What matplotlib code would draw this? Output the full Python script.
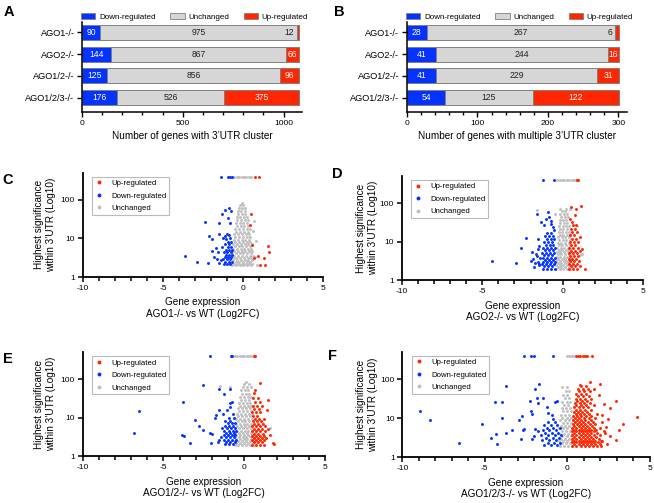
import matplotlib
matplotlib.use('Agg')
import matplotlib.pyplot as plt
from matplotlib.lines import Line2D
from matplotlib.patches import Patch
from matplotlib.ticker import NullLocator
import numpy as np

plt.rcParams['font.family'] = ['Liberation Sans', 'DejaVu Sans']

BLUE = '#0433ff'
RED = '#ff2600'
GREY_BAR = '#d6d6d6'
GREY_PT = '#c0c0c0'

# ---------------- bar data (panels A, B) ----------------
genotypes = ['AGO1-/-', 'AGO2-/-', 'AGO1/2-/-', 'AGO1/2/3-/-']
a_down = [90, 144, 125, 176]
a_unch = [975, 867, 856, 526]
a_up = [12, 66, 96, 375]
b_down = [28, 41, 41, 54]
b_unch = [267, 244, 229, 125]
b_up = [6, 16, 31, 122]

# ---------------- volcano data (panels C-F) ----------------
# rows: (y, [x, x, ...]) ; pts: (x, y) ; 400 = capped at top
c_unch_rows = [
    (2.0, [-0.68, -0.45, -0.22, 0.02, 0.25, 0.48]),
    (2.2, [-0.58, -0.33, -0.1, 0.14, 0.36, 0.58]),
    (2.5, [-0.7, -0.47, -0.24, 0.0, 0.22, 0.45]),
    (2.8, [-0.6, -0.36, -0.12, 0.1, 0.33, 0.55]),
    (3.2, [-0.66, -0.42, -0.2, 0.05, 0.28, 0.5]),
    (3.6, [-0.55, -0.3, -0.06, 0.18, 0.4, 0.62]),
    (4.1, [-0.7, -0.46, -0.22, 0.02, 0.26, 0.47]),
    (4.7, [-0.58, -0.34, -0.1, 0.14, 0.37, 0.56]),
    (5.4, [-0.64, -0.4, -0.16, 0.08, 0.3, 0.52]),
    (6.2, [-0.52, -0.28, -0.04, 0.2, 0.42]),
    (7.1, [-0.62, -0.38, -0.14, 0.1, 0.33, 0.55]),
    (8.2, [-0.5, -0.26, -0.02, 0.22, 0.44]),
    (9.4, [-0.58, -0.34, -0.1, 0.14, 0.36]),
    (11, [-0.48, -0.24, 0.0, 0.24, 0.45]),
    (13, [-0.55, -0.3, -0.06, 0.18, 0.38]),
    (15, [-0.44, -0.2, 0.04, 0.28]),
    (18, [-0.5, -0.26, -0.02, 0.22, 0.4]),
    (21, [-0.4, -0.16, 0.08, 0.3]),
    (25, [-0.46, -0.22, 0.02, 0.24]),
    (30, [-0.36, -0.12, 0.12, 0.3]),
    (36, [-0.4, -0.18, 0.06, 0.22]),
    (43, [-0.3, -0.08, 0.14]),
    (52, [-0.34, -0.12, 0.1]),
    (62, [-0.24, -0.04, 0.12]),
    (75, [-0.18, 0.02]),
    (85, [-0.08]),
]
c_unch_pts = [(0.72, 3.4), (0.8, 8.5), (0.62, 16), (-0.78, 2.3), (0.85, 2.1), (0.66, 28),
              (-0.56, 400), (-0.4, 400), (-0.25, 400), (-0.1, 400), (0.05, 400), (0.2, 400),
              (0.35, 400), (0.5, 400)]
c_down_rows = [
    (2.2, [-1.2, -1.0, -0.8]),
    (2.5, [-1.1, -0.9, -0.72]),
    (2.9, [-1.25, -1.02, -0.82]),
    (3.3, [-1.15, -0.95, -0.75]),
    (3.8, [-1.05, -0.85, -0.7]),
    (4.4, [-1.2, -0.98, -0.78]),
    (5.1, [-1.08, -0.88, -0.72]),
    (6.0, [-0.95, -0.78]),
    (7.0, [-1.1, -0.85]),
    (8.0, [-0.92, -0.75]),
]
c_down_pts = [(-3.65, 3.6), (-2.86, 2.5), (-2.17, 2.27), (-2.37, 26), (-2.13, 11.6), (-1.92, 9.5),
              (-1.96, 4.7), (-1.71, 5.5), (-1.81, 3.25), (-1.5, 24.7), (-1.33, 43), (-1.12, 55),
              (-0.87, 61), (-0.77, 52), (-0.92, 33), (-0.83, 25.7), (-1.5, 13), (-1.25, 10.5),
              (-1.0, 13), (-0.9, 12), (-1.15, 11.5), (-0.8, 10), (-1.05, 9.8), (-1.6, 3.0),
              (-1.5, 2.3), (-1.55, 4.5), (-1.3, 6), (-1.4, 2.8),
              (-1.36, 400), (-0.94, 400), (-0.83, 400), (-0.71, 400)]
c_up_rows = []
c_up_pts = [(0.75, 400), (1.02, 400), (0.5, 42), (0.42, 23), (0.54, 6.8), (1.58, 6.4),
            (1.63, 4.4), (0.94, 3.6), (1.33, 3.2), (0.65, 3.05), (1.04, 2.0), (1.38, 2.0)]

d_unch_rows = [
    (2.0, [-0.4, -0.18, 0.04, 0.26, 0.48]),
    (2.2, [-0.3, -0.08, 0.14, 0.36, 0.58]),
    (2.5, [-0.42, -0.2, 0.02, 0.24, 0.46]),
    (2.8, [-0.32, -0.1, 0.12, 0.34, 0.55]),
    (3.2, [-0.4, -0.18, 0.05, 0.27, 0.5]),
    (3.6, [-0.28, -0.06, 0.16, 0.38, 0.6]),
    (4.1, [-0.38, -0.16, 0.06, 0.28, 0.5]),
    (4.7, [-0.3, -0.08, 0.14, 0.36, 0.56]),
    (5.4, [-0.36, -0.14, 0.08, 0.3, 0.52]),
    (6.2, [-0.26, -0.04, 0.18, 0.4]),
    (7.1, [-0.34, -0.12, 0.1, 0.32, 0.52]),
    (8.2, [-0.24, -0.02, 0.2, 0.42]),
    (9.4, [-0.3, -0.08, 0.14, 0.36]),
    (11, [-0.22, 0.0, 0.22, 0.44]),
    (13, [-0.28, -0.06, 0.16, 0.38]),
    (15, [-0.2, 0.02, 0.24, 0.42]),
    (18, [-0.26, -0.04, 0.18, 0.36]),
    (21, [-0.18, 0.04, 0.26]),
    (25, [-0.22, 0.0, 0.2, 0.38]),
    (30, [-0.14, 0.08, 0.28]),
    (36, [-0.2, 0.02, 0.22]),
    (43, [-0.1, 0.12, 0.3]),
    (52, [-0.16, 0.06, 0.24]),
    (62, [-0.06, 0.14]),
    (72, [-0.2, 0.2]),
]
d_unch_pts = [(-1.6, 65), (1.05, 4.5), (1.2, 4.8), (0.9, 25), (-0.45, 52), (0.45, 70),
              (-0.35, 400), (-0.2, 400), (-0.05, 400), (0.1, 400), (0.25, 400), (0.4, 400),
              (0.55, 400), (0.7, 400), (0.83, 400)]
d_down_rows = [
    (2.0, [-1.25, -1.0, -0.75, -0.5]),
    (2.3, [-1.15, -0.9, -0.65]),
    (2.6, [-1.3, -1.05, -0.8, -0.55]),
    (3.0, [-1.2, -0.95, -0.7, -0.48]),
    (3.4, [-1.1, -0.85, -0.6]),
    (3.9, [-1.25, -1.0, -0.75, -0.5]),
    (4.5, [-1.15, -0.9, -0.65]),
    (5.2, [-1.3, -1.05, -0.8, -0.55]),
    (6.0, [-1.1, -0.85, -0.6]),
    (7.0, [-1.2, -0.95, -0.7, -0.5]),
    (8.2, [-1.05, -0.8, -0.58]),
    (9.6, [-1.15, -0.9, -0.65]),
    (11.5, [-1.0, -0.75, -0.52]),
    (14, [-1.1, -0.85, -0.6]),
    (17, [-0.95, -0.7]),
]
d_down_pts = [(-4.39, 3.16), (-2.9, 2.8), (-2.59, 6.9), (-2.28, 12.5), (-1.6, 53), (-1.35, 32),
              (-1.86, 3.5), (-1.76, 2.2), (-1.45, 2.5), (-1.66, 4.9), (-1.55, 6.6), (-1.51, 11.9),
              (-1.55, 3.0), (-1.18, 26.5), (-1.04, 39.6), (-0.93, 61), (-0.83, 43.6), (-0.73, 29.3),
              (-0.62, 24), (-1.5, 2.6), (-1.4, 3.8), (-1.7, 2.8), (-1.45, 8.0), (-1.6, 4.2),
              (-2.0, 3.2), (-1.9, 5.5), (-0.55, 20), (-0.7, 35),
              (-1.24, 400), (-0.56, 400)]
d_up_rows = [
    (2.0, [0.4, 0.65, 0.9]),
    (2.3, [0.52, 0.78, 1.05]),
    (2.7, [0.38, 0.62, 0.88]),
    (3.1, [0.48, 0.72, 1.0]),
    (3.6, [0.36, 0.6, 0.85]),
    (4.2, [0.46, 0.7, 0.95]),
    (5.0, [0.38, 0.62, 0.88]),
    (5.9, [0.5, 0.75, 1.05]),
    (7.0, [0.4, 0.65, 0.92]),
    (8.3, [0.52, 0.78]),
    (10, [0.42, 0.68, 0.95]),
    (12, [0.55, 0.8]),
    (15, [0.45, 0.7]),
    (18, [0.6, 0.88]),
    (22, [0.5, 0.75]),
    (27, [0.62, 0.85]),
    (32, [0.55]),
]
d_up_pts = [(1.14, 84), (0.83, 71), (0.52, 82), (0.78, 50), (1.39, 2.0), (1.2, 6.5), (1.1, 13),
            (0.45, 40), (0.93, 400), (0.88, 400)]

e_unch_rows = [
    (2.0, [-0.6, -0.36, -0.12, 0.12, 0.36, 0.6]),
    (2.2, [-0.5, -0.26, -0.02, 0.22, 0.46, 0.7]),
    (2.5, [-0.62, -0.38, -0.14, 0.1, 0.34, 0.58]),
    (2.8, [-0.52, -0.28, -0.04, 0.2, 0.44]),
    (3.2, [-0.58, -0.34, -0.1, 0.14, 0.38, 0.62]),
    (3.6, [-0.48, -0.24, 0.0, 0.24, 0.48]),
    (4.1, [-0.56, -0.32, -0.08, 0.16, 0.4, 0.64]),
    (4.7, [-0.46, -0.22, 0.02, 0.26, 0.5]),
    (5.4, [-0.54, -0.3, -0.06, 0.18, 0.42]),
    (6.2, [-0.44, -0.2, 0.04, 0.28, 0.5]),
    (7.1, [-0.52, -0.28, -0.04, 0.2, 0.44]),
    (8.2, [-0.4, -0.16, 0.08, 0.32]),
    (9.4, [-0.48, -0.24, 0.0, 0.24, 0.46]),
    (11, [-0.36, -0.12, 0.12, 0.36]),
    (13, [-0.42, -0.18, 0.06, 0.3, 0.5]),
    (15, [-0.3, -0.06, 0.18, 0.4]),
    (18, [-0.38, -0.14, 0.1, 0.34]),
    (21, [-0.26, -0.02, 0.22, 0.44]),
    (25, [-0.32, -0.08, 0.16, 0.38]),
    (30, [-0.2, 0.04, 0.28]),
    (36, [-0.26, -0.02, 0.22, 0.42]),
    (43, [-0.14, 0.1, 0.32]),
    (52, [-0.2, 0.04, 0.26]),
    (62, [-0.06, 0.18, 0.4]),
    (75, [0.0, 0.3]),
    (85, [0.12]),
]
e_unch_pts = [(1.57, 5.3), (-1.48, 67), (-0.9, 62), (1.1, 8.0), (1.35, 3.0),
              (-0.56, 400), (-0.42, 400), (-0.28, 400), (-0.14, 400), (0.0, 400), (0.15, 400),
              (0.3, 400), (0.45, 400)]
e_down_rows = [
    (2.1, [-1.2, -0.95, -0.7]),
    (2.4, [-1.1, -0.85, -0.6]),
    (2.7, [-1.25, -1.0, -0.75, -0.52]),
    (3.1, [-1.15, -0.9, -0.65]),
    (3.5, [-1.28, -1.03, -0.78, -0.55]),
    (4.0, [-1.12, -0.88, -0.62]),
    (4.6, [-1.22, -0.97, -0.72, -0.5]),
    (5.3, [-1.08, -0.83, -0.6]),
    (6.2, [-1.18, -0.92, -0.68]),
    (7.3, [-1.0, -0.75, -0.55]),
    (8.5, [-1.2, -0.85]),
    (10, [-0.95, -0.65]),
    (12.5, [-1.3, -0.7]),
]
e_down_pts = [(-6.85, 4.0), (-6.49, 15), (-3.79, 26), (-3.86, 3.56), (-3.71, 3.4), (-3.34, 2.17),
              (-3.07, 9.0), (-2.82, 6.2), (-2.56, 4.8), (-2.52, 74), (-2.06, 2.17), (-2.1, 4.0),
              (-1.98, 3.8), (-1.8, 10), (-1.75, 12), (-1.55, 57), (-1.53, 16), (-1.24, 42),
              (-0.87, 57), (-0.9, 25), (-0.76, 26), (-0.87, 19), (-1.08, 16), (-1.4, 5.5),
              (-1.65, 2.3), (-1.55, 2.6), (-1.45, 3.2),
              (-2.1, 400), (-0.83, 400), (-0.73, 400)]
e_up_rows = [
    (2.0, [0.5, 0.75, 1.0, 1.25]),
    (2.3, [0.62, 0.88, 1.12]),
    (2.6, [0.48, 0.72, 0.98, 1.22]),
    (3.0, [0.6, 0.85, 1.1, 1.35]),
    (3.4, [0.5, 0.75, 1.0, 1.25]),
    (3.9, [0.62, 0.88, 1.15]),
    (4.5, [0.5, 0.75, 1.0, 1.28]),
    (5.2, [0.6, 0.86, 1.12]),
    (6.0, [0.5, 0.74, 1.0, 1.3]),
    (7.0, [0.62, 0.88, 1.15]),
    (8.2, [0.52, 0.78, 1.05]),
    (9.6, [0.65, 0.92, 1.2]),
    (11.5, [0.55, 0.8]),
    (14, [0.5, 0.72, 1.0]),
    (17, [0.6, 0.9]),
    (21, [0.52, 0.78, 1.1]),
    (26, [0.65, 0.95]),
    (33, [0.55, 0.85]),
]
e_up_pts = [(0.99, 80), (0.68, 52), (1.46, 28.6), (1.4, 16.4), (1.86, 2.1), (1.77, 2.25),
            (1.5, 5.0), (1.6, 3.6), (0.62, 45), (0.64, 400), (0.58, 400)]

f_unch_rows = [
    (2.0, [-0.45, -0.2, 0.05, 0.3]),
    (2.3, [-0.35, -0.1, 0.15]),
    (2.6, [-0.5, -0.25, 0.0, 0.25]),
    (3.0, [-0.4, -0.15, 0.1, 0.32]),
    (3.5, [-0.3, -0.05, 0.2]),
    (4.0, [-0.45, -0.2, 0.05, 0.3]),
    (4.7, [-0.35, -0.1, 0.15]),
    (5.5, [-0.5, -0.25, 0.0, 0.25]),
    (6.4, [-0.38, -0.12, 0.12]),
    (7.5, [-0.28, -0.02, 0.22]),
    (8.8, [-0.42, -0.16, 0.08]),
    (10.5, [-0.3, -0.05, 0.2]),
    (12.5, [-0.4, -0.15, 0.1]),
    (15, [-0.25, 0.0, 0.22]),
    (18, [-0.35, -0.1, 0.14]),
    (22, [-0.2, 0.05]),
    (27, [-0.3, -0.05, 0.18]),
    (33, [-0.15, 0.1]),
    (40, [-0.25, 0.0]),
    (50, [-0.1, 0.12]),
    (62, [-0.34, 0.0]),
]
f_unch_pts = [(-0.04, 400), (0.1, 400), (0.22, 400), (0.36, 400)]
f_down_rows = [
    (2.1, [-1.4, -1.0, -0.6]),
    (2.4, [-1.2, -0.8, -0.45]),
    (2.8, [-1.55, -1.1, -0.7]),
    (3.2, [-1.3, -0.9, -0.5]),
    (3.7, [-1.6, -1.15, -0.75, -0.4]),
    (4.3, [-1.35, -0.95, -0.55]),
    (5.0, [-1.5, -1.1, -0.7]),
    (5.8, [-1.25, -0.85, -0.45]),
    (6.8, [-1.4, -1.0, -0.6]),
    (8.0, [-1.15, -0.75]),
]
f_down_pts = [(-8.93, 15.2), (-8.3, 9.2), (-6.55, 2.3), (-5.15, 7.0), (-4.65, 3.1), (-4.3, 4.05),
              (-4.24, 2.2), (-4.38, 26.7), (-3.94, 26.2), (-3.72, 66), (-3.98, 10.3), (-3.72, 4.2),
              (-3.37, 4.9), (-2.93, 9.2), (-2.77, 11.8), (-2.7, 5.0), (-2.6, 5.4), (-2.8, 3.0),
              (-2.26, 28), (-2.2, 15), (-2.16, 13), (-1.96, 56), (-1.7, 78), (-1.85, 34),
              (-1.75, 25), (-1.95, 5.3), (-1.8, 4.8), (-2.05, 3.5), (-2.15, 3.0), (-1.45, 33),
              (-1.25, 20), (-1.15, 14), (-0.95, 12), (-0.75, 25.7), (-0.65, 28), (-0.85, 9.5),
              (-2.61, 400), (-2.22, 400), (-2.02, 400), (-0.85, 400)]
f_up_rows = [
    (2.0, [0.3, 0.55, 0.8, 1.05, 1.3, 1.55, 1.8, 2.05]),
    (2.2, [0.42, 0.68, 0.92, 1.18, 1.42, 1.68, 1.95]),
    (2.45, [0.3, 0.55, 0.8, 1.05, 1.3, 1.55, 1.85]),
    (2.7, [0.42, 0.68, 0.92, 1.18, 1.42, 1.7, 2.1]),
    (3.0, [0.3, 0.55, 0.8, 1.05, 1.3, 1.58, 1.9]),
    (3.3, [0.42, 0.68, 0.92, 1.18, 1.45, 1.75]),
    (3.7, [0.3, 0.55, 0.8, 1.05, 1.3, 1.6, 2.0]),
    (4.1, [0.42, 0.68, 0.92, 1.18, 1.45, 1.8]),
    (4.6, [0.3, 0.55, 0.8, 1.05, 1.3, 1.6, 2.2]),
    (5.1, [0.42, 0.68, 0.92, 1.18, 1.45, 1.75]),
    (5.7, [0.3, 0.55, 0.8, 1.05, 1.3, 1.62, 1.95]),
    (6.4, [0.42, 0.68, 0.92, 1.2, 1.5]),
    (7.2, [0.32, 0.56, 0.8, 1.05, 1.35, 1.7]),
    (8.1, [0.45, 0.7, 0.95, 1.22, 1.55, 2.1]),
    (9.1, [0.34, 0.58, 0.82, 1.08, 1.4]),
    (10.3, [0.46, 0.72, 0.98, 1.28, 1.65]),
    (11.6, [0.36, 0.6, 0.85, 1.12, 1.45]),
    (13, [0.5, 0.75, 1.0, 1.3, 1.8]),
    (14.8, [0.4, 0.65, 0.9, 1.18]),
    (16.8, [0.52, 0.78, 1.05, 1.4]),
    (19, [0.42, 0.68, 0.95, 1.25]),
    (21.5, [0.55, 0.82, 1.1, 1.6]),
    (24.5, [0.48, 0.75, 1.02, 1.35]),
    (28, [0.6, 0.88, 1.2]),
    (32, [0.5, 0.78, 1.05, 1.45]),
    (37, [0.65, 0.95, 1.3]),
    (43, [0.55, 0.85, 1.15]),
    (50, [0.7, 1.0, 1.35]),
    (58, [0.62, 0.95, 1.25]),
    (68, [0.8, 1.15]),
]
f_up_pts = [(4.2, 10.7), (3.35, 7.2), (3.1, 5.1), (2.93, 2.85), (2.93, 28), (2.59, 18.4),
            (2.2, 23), (2.0, 78), (1.39, 86), (0.77, 72), (2.28, 4.1), (2.38, 2.2), (2.6, 3.5),
            (2.45, 9.5), (2.1, 12), (2.35, 6.0), (1.9, 40), (1.6, 55), (2.05, 2.6),
            (0.5, 400), (0.65, 400), (0.79, 400), (0.95, 400), (1.07, 400), (1.21, 400), (1.47, 400)]


def to_xy(rows, pts):
    xs, ys = [], []
    for y, xlist in rows:
        for x in xlist:
            xs.append(x)
            ys.append(y)
    for x, y in pts:
        xs.append(x)
        ys.append(y)
    return xs, ys


def draw_bars(ax, down, unch, up, xmax, major, minor, xlabel):
    y = np.arange(len(genotypes))
    kw = dict(height=0.69, edgecolor='#808080', linewidth=0.7)
    down = np.array(down)
    unch = np.array(unch)
    up = np.array(up)
    ax.barh(y, down, color=BLUE, **kw)
    ax.barh(y, unch, left=down, color=GREY_BAR, **kw)
    ax.barh(y, up, left=down + unch, color=RED, **kw)
    for i in y:
        ax.text(down[i] / 2, i, str(down[i]), color='white', ha='center', va='center', fontsize=6.2)
        ax.text(down[i] + unch[i] / 2, i, str(unch[i]), color='#222222', ha='center', va='center', fontsize=6.2)
        lu = down[i] + unch[i]
        if up[i] > 0.03 * xmax:
            ax.text(lu + up[i] / 2, i, str(up[i]), color='white', ha='center', va='center', fontsize=6.2)
        else:
            ax.text(lu - 0.012 * xmax, i, str(up[i]), color='#222222', ha='right', va='center', fontsize=6.2)
    ax.set_ylim(3.656, -0.47)
    ax.set_xlim(0, xmax)
    ax.set_yticks(y)
    ax.set_yticklabels(genotypes, fontsize=6.6)
    ax.set_xticks(major)
    ax.set_xticks(minor, minor=True)
    ax.tick_params(axis='x', labelsize=6, length=3.5, width=1, pad=2)
    ax.tick_params(axis='x', which='minor', length=2.5, width=1)
    ax.tick_params(axis='y', length=3.5, width=1, pad=2)
    ax.set_xlabel(xlabel, fontsize=7.2, labelpad=3)
    for s in ['top', 'right']:
        ax.spines[s].set_visible(False)
    for s in ['left', 'bottom']:
        ax.spines[s].set_linewidth(1.1)
    handles = [Patch(facecolor=BLUE, edgecolor='#808080', linewidth=0.6, label='Down-regulated'),
               Patch(facecolor=GREY_BAR, edgecolor='#808080', linewidth=0.6, label='Unchanged'),
               Patch(facecolor=RED, edgecolor='#808080', linewidth=0.6, label='Up-regulated')]
    ax.legend(handles=handles, loc='lower left', bbox_to_anchor=(-0.005, 1.01), ncol=3,
              frameon=False, fontsize=5.8, handlelength=1.8, handleheight=0.7,
              handletextpad=0.45, columnspacing=1.8, borderaxespad=0, borderpad=0)


def draw_volcano(ax, unch, down, up, geno, ylab_x):
    ax.scatter(*to_xy(*unch), s=4.5, color=GREY_PT, linewidths=0, clip_on=False)
    ax.scatter(*to_xy(*down), s=4.5, color=BLUE, linewidths=0, clip_on=False)
    ax.scatter(*to_xy(*up), s=4.5, color=RED, linewidths=0, clip_on=False)
    ax.set_yscale('log')
    ax.set_ylim(1, 510)
    ax.set_xlim(-10, 5)
    ax.set_yticks([1, 10, 100])
    ax.set_yticklabels(['1', '10', '100'])
    ax.yaxis.set_minor_locator(NullLocator())
    ax.set_xticks([-10, -5, 0, 5])
    ax.set_xticklabels(['-10', '-5', '0', '5'])
    ax.set_xticks(np.arange(-10, 6, 1), minor=True)
    ax.tick_params(labelsize=6, length=3.5, width=1.1, pad=2)
    ax.tick_params(which='minor', length=3, width=1.1)
    for s in ['top', 'right']:
        ax.spines[s].set_visible(False)
    for s in ['left', 'bottom']:
        ax.spines[s].set_linewidth(1.3)
    ax.set_xlabel('Gene expression\n' + geno + ' vs WT (Log2FC)', fontsize=7.2, labelpad=4)
    ax.set_ylabel('Highest significance\nwithin 3\u2019UTR (Log10)', fontsize=7.2)
    ax.yaxis.set_label_coords(ylab_x, 0.5)
    handles = [Line2D([], [], ls='', marker='o', markersize=1.8, color=RED, label='Up-regulated'),
               Line2D([], [], ls='', marker='o', markersize=1.8, color=BLUE, label='Down-regulated'),
               Line2D([], [], ls='', marker='o', markersize=1.8, color=GREY_PT, label='Unchanged')]
    leg = ax.legend(handles=handles, loc='upper left', bbox_to_anchor=(0.04, 0.96), fontsize=5.6,
                    fancybox=False, edgecolor='#aaaaaa', borderpad=0.35, labelspacing=0.65,
                    handlelength=1.0, handletextpad=1.1, borderaxespad=0)
    leg.get_frame().set_linewidth(0.8)


fig = plt.figure(figsize=(6.54, 5.03), dpi=100)

ax_a = fig.add_axes([0.1254, 0.7773, 0.336, 0.179])
draw_bars(ax_a, a_down, a_unch, a_up, 1090, [0, 500, 1000], np.arange(0, 1100, 100),
          'Number of genes with 3\u2019UTR cluster')
ax_b = fig.add_axes([0.6223, 0.7773, 0.336, 0.179])
draw_bars(ax_b, b_down, b_unch, b_up, 312, [0, 100, 200, 300], np.arange(0, 320, 20),
          'Number of genes with multiple 3\u2019UTR cluster')

ax_c = fig.add_axes([0.1264, 0.4493, 0.368, 0.2074])
draw_volcano(ax_c, (c_unch_rows, c_unch_pts), (c_down_rows, c_down_pts), (c_up_rows, c_up_pts),
             'AGO1-/-', -0.111)
ax_d = fig.add_axes([0.6142, 0.4427, 0.3694, 0.2074])
draw_volcano(ax_d, (d_unch_rows, d_unch_pts), (d_down_rows, d_down_pts), (d_up_rows, d_up_pts),
             'AGO2-/-', -0.099)
ax_e = fig.add_axes([0.1264, 0.0928, 0.3705, 0.2068])
draw_volcano(ax_e, (e_unch_rows, e_unch_pts), (e_down_rows, e_down_pts), (e_up_rows, e_up_pts),
             'AGO1/2-/-', -0.11)
ax_f = fig.add_axes([0.6151, 0.0908, 0.3787, 0.2099])
draw_volcano(ax_f, (f_unch_rows, f_unch_pts), (f_down_rows, f_down_pts), (f_up_rows, f_up_pts),
             'AGO1/2/3-/-', -0.098)

# panel letters
for lab, x, y in [('A', 0.005, 0.99), ('B', 0.511, 0.99), ('C', 0.003, 0.656),
                  ('D', 0.508, 0.668), ('E', 0.004, 0.300), ('F', 0.502, 0.306)]:
    fig.text(x, y, lab, fontsize=10.5, fontweight='bold', va='top', ha='left')

fig.savefig('out.png', dpi=100)
